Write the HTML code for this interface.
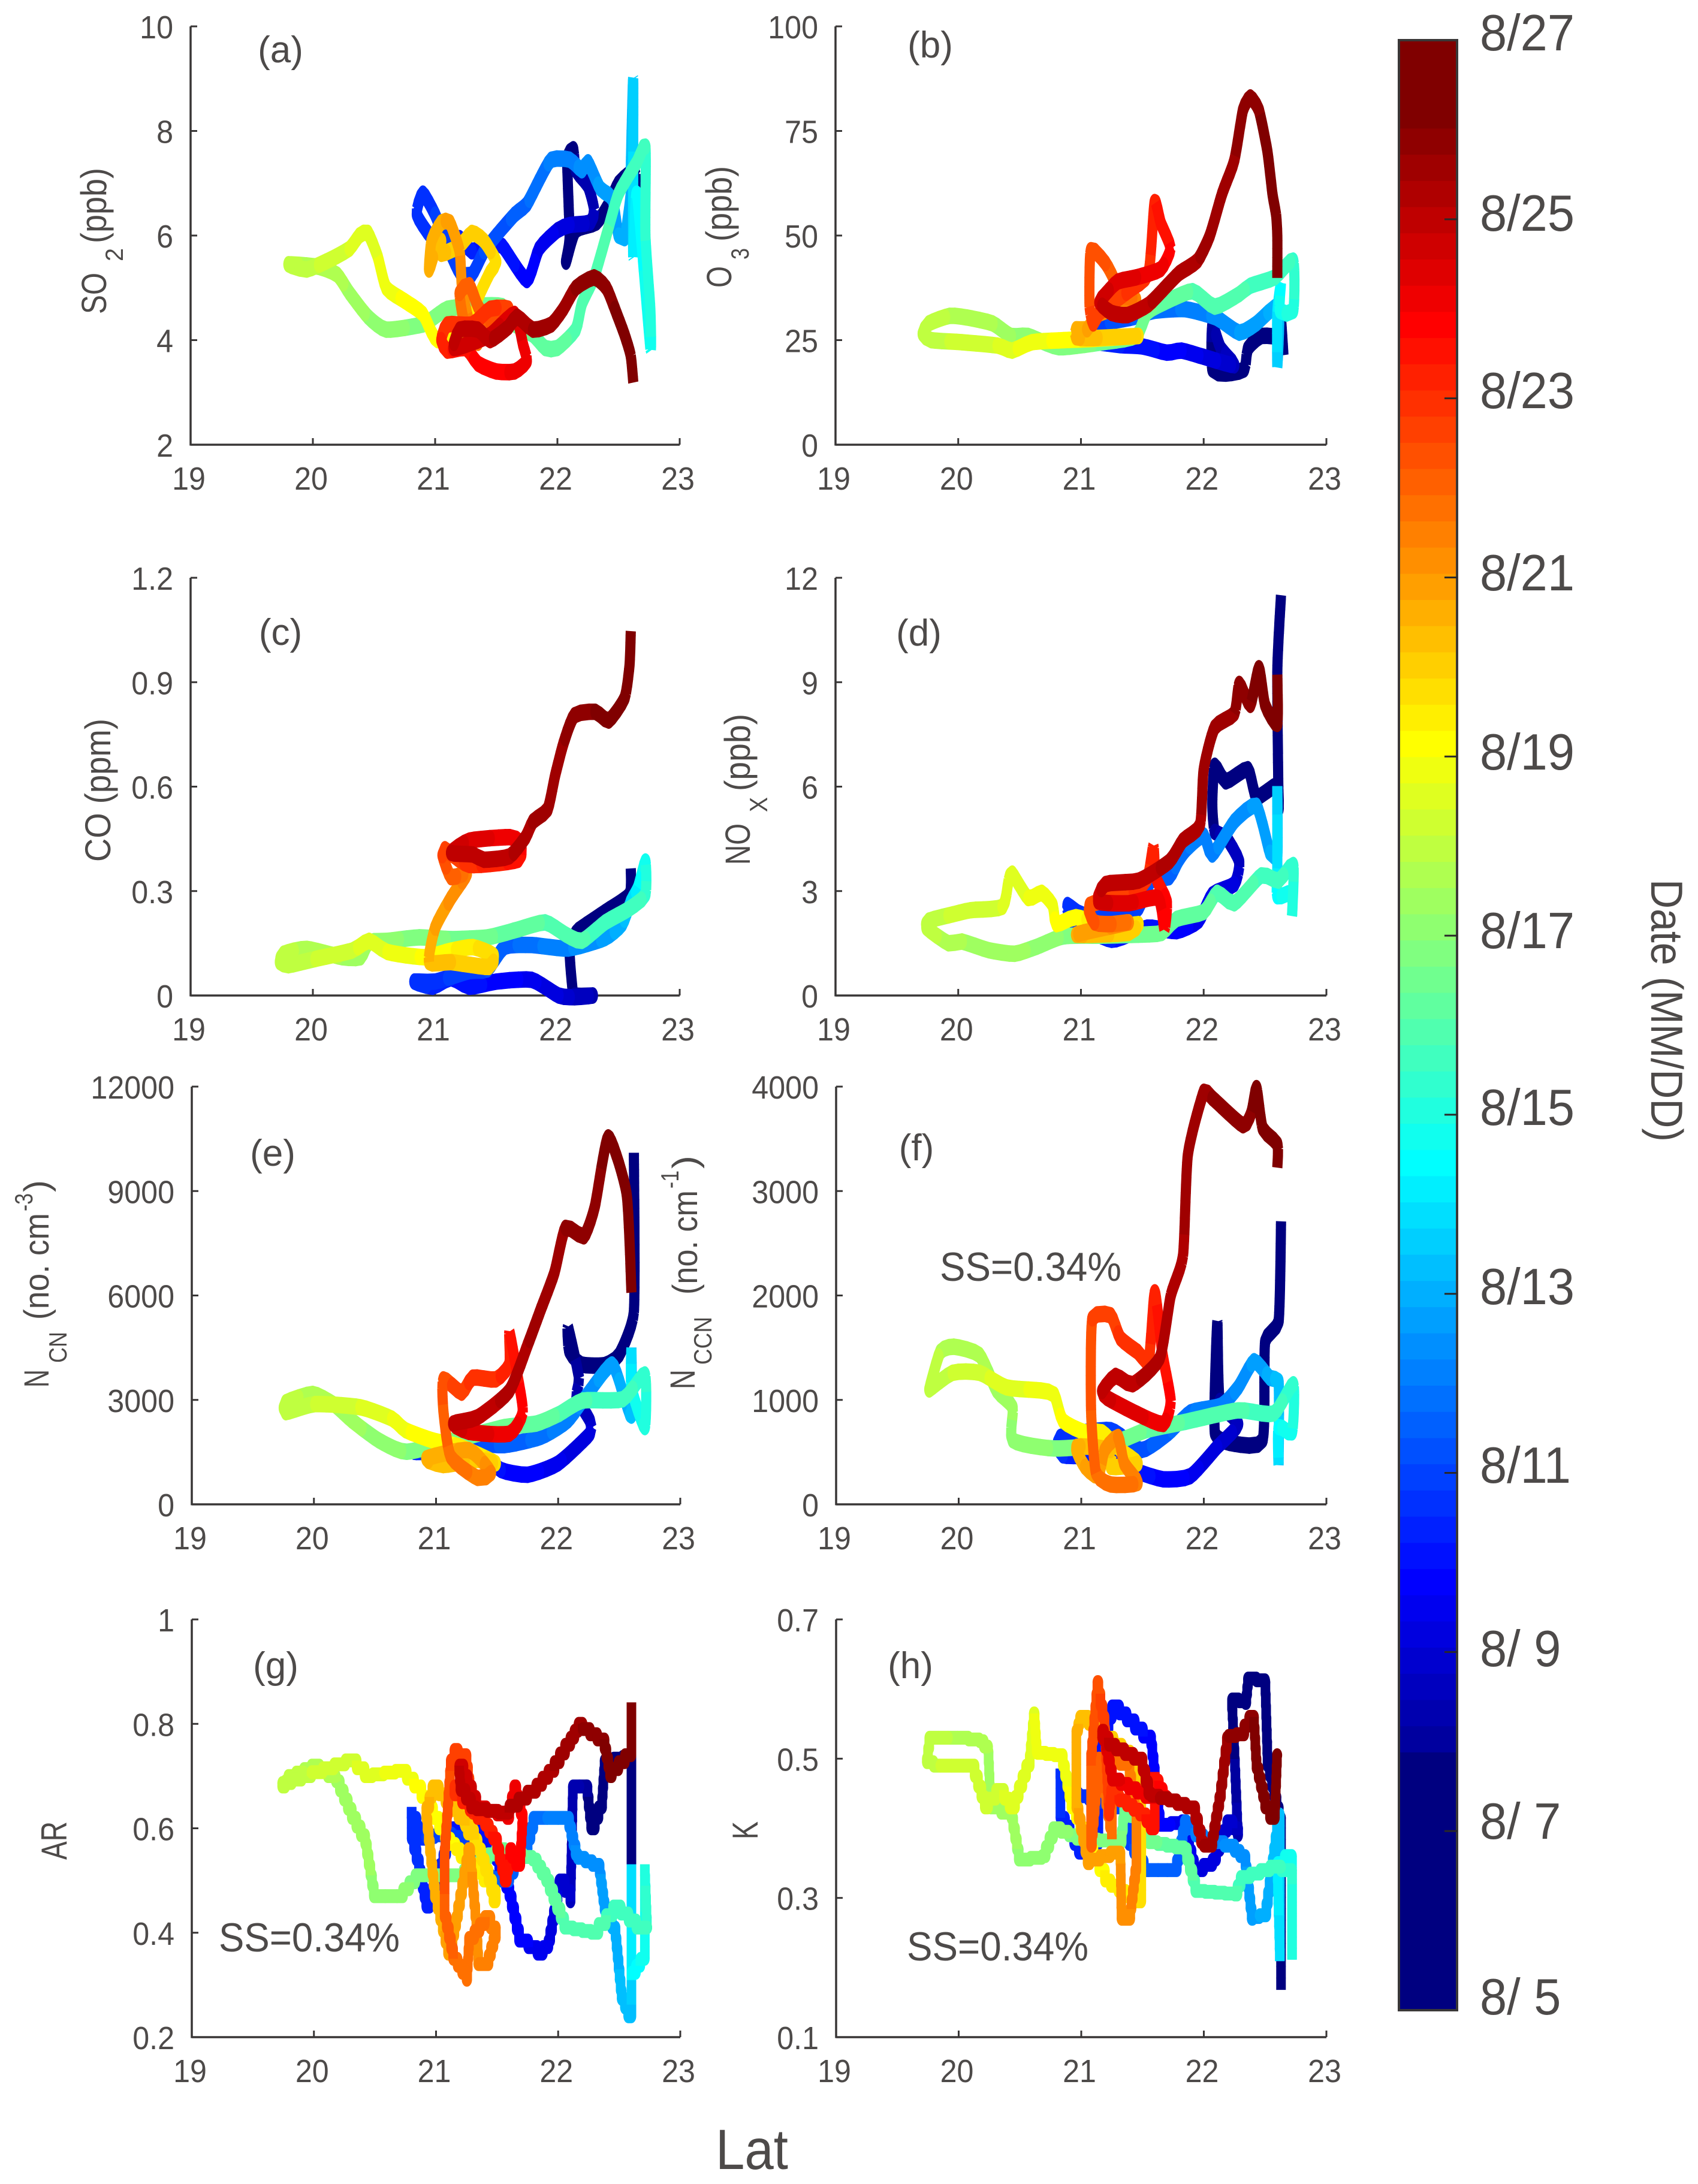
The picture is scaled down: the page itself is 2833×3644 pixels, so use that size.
<!DOCTYPE html>
<html lang="en">
<head>
<meta charset="utf-8">
<title>Date-coloured latitude profiles</title>
<style>
html,body{margin:0;padding:0;background:#fff;}
svg{display:block;}
text{font-family:"Liberation Sans",sans-serif;fill:#4d4a49;}
</style>
</head>
<body>
<svg id="chart" xmlns="http://www.w3.org/2000/svg" width="2833" height="3644" viewBox="0 0 2833 3644">
<rect x="0" y="0" width="2833" height="3644" fill="#ffffff"/>
<g id="plots"></g>
<g id="bar"></g>

<!-- panel letters -->
<text x="468" y="104" font-size="62" text-anchor="middle">(a)</text>
<text x="1552" y="96" font-size="62" text-anchor="middle">(b)</text>
<text x="468" y="1076" font-size="62" text-anchor="middle">(c)</text>
<text x="1533" y="1077" font-size="62" text-anchor="middle">(d)</text>
<text x="455" y="1945" font-size="62" text-anchor="middle">(e)</text>
<text x="1529" y="1936" font-size="62" text-anchor="middle">(f)</text>
<text x="460" y="2800" font-size="62" text-anchor="middle">(g)</text>
<text x="1519" y="2800" font-size="62" text-anchor="middle">(h)</text>

<!-- supersaturation notes -->
<text x="1568" y="2137" font-size="68" textLength="303" lengthAdjust="spacingAndGlyphs">SS=0.34%</text>
<text x="365" y="3256" font-size="68" textLength="302" lengthAdjust="spacingAndGlyphs">SS=0.34%</text>
<text x="1513" y="3271" font-size="68" textLength="303" lengthAdjust="spacingAndGlyphs">SS=0.34%</text>

<!-- y axis titles -->
<g>
<text transform="translate(177,524) rotate(-90)" font-size="58" textLength="69" lengthAdjust="spacingAndGlyphs">SO</text>
<text transform="translate(205,436) rotate(-90)" font-size="42" textLength="22" lengthAdjust="spacingAndGlyphs">2</text>
<text transform="translate(177,406) rotate(-90)" font-size="60" textLength="126" lengthAdjust="spacingAndGlyphs">(ppb)</text>
</g>
<g>
<text transform="translate(1220,480) rotate(-90)" font-size="58" textLength="36" lengthAdjust="spacingAndGlyphs">O</text>
<text transform="translate(1249,433) rotate(-90)" font-size="42" textLength="19" lengthAdjust="spacingAndGlyphs">3</text>
<text transform="translate(1220,403) rotate(-90)" font-size="60" textLength="126" lengthAdjust="spacingAndGlyphs">(ppb)</text>
</g>
<text transform="translate(184,1438) rotate(-90)" font-size="60" textLength="239" lengthAdjust="spacingAndGlyphs">CO (ppm)</text>
<g>
<text transform="translate(1251,1443) rotate(-90)" font-size="58" textLength="69" lengthAdjust="spacingAndGlyphs">NO</text>
<text transform="translate(1280,1355) rotate(-90)" font-size="42" textLength="25" lengthAdjust="spacingAndGlyphs">X</text>
<text transform="translate(1251,1320) rotate(-90)" font-size="60" textLength="129" lengthAdjust="spacingAndGlyphs">(ppb)</text>
</g>
<g>
<text transform="translate(81,2315) rotate(-90)" font-size="58" textLength="30" lengthAdjust="spacingAndGlyphs">N</text>
<text transform="translate(111,2274) rotate(-90)" font-size="42" textLength="52" lengthAdjust="spacingAndGlyphs">CN</text>
<text transform="translate(81,2202) rotate(-90)" font-size="58" textLength="178" lengthAdjust="spacingAndGlyphs">(no. cm</text>
<text transform="translate(54,2021) rotate(-90)" font-size="42" textLength="30" lengthAdjust="spacingAndGlyphs">-3</text>
<text transform="translate(81,1989) rotate(-90)" font-size="58" textLength="20" lengthAdjust="spacingAndGlyphs">)</text>
</g>
<g>
<text transform="translate(1159,2318) rotate(-90)" font-size="58" textLength="33" lengthAdjust="spacingAndGlyphs">N</text>
<text transform="translate(1187,2277) rotate(-90)" font-size="42" textLength="80" lengthAdjust="spacingAndGlyphs">CCN</text>
<text transform="translate(1163,2160) rotate(-90)" font-size="58" textLength="174" lengthAdjust="spacingAndGlyphs">(no. cm</text>
<text transform="translate(1132,1983) rotate(-90)" font-size="42" textLength="30" lengthAdjust="spacingAndGlyphs">-1</text>
<text transform="translate(1163,1950) rotate(-90)" font-size="58" textLength="22" lengthAdjust="spacingAndGlyphs">)</text>
</g>
<text transform="translate(111,3103) rotate(-90)" font-size="60" textLength="64" lengthAdjust="spacingAndGlyphs">AR</text>
<text transform="translate(1264,3069) rotate(-90)" font-size="60" textLength="30" lengthAdjust="spacingAndGlyphs">K</text>

<text x="1194" y="3619" font-size="95" textLength="121" lengthAdjust="spacingAndGlyphs">Lat</text>
<text transform="translate(2755,1467) rotate(90)" font-size="75" textLength="438" lengthAdjust="spacingAndGlyphs">Date (MM/DD)</text>

<!-- colorbar labels -->
<g font-size="85">
<text transform="translate(2469,84) scale(.955,1)">8/27</text>
<text transform="translate(2469,385) scale(.955,1)">8/25</text>
<text transform="translate(2469,681) scale(.955,1)">8/23</text>
<text transform="translate(2469,985) scale(.955,1)">8/21</text>
<text transform="translate(2469,1284) scale(.955,1)">8/19</text>
<text transform="translate(2469,1582) scale(.955,1)">8/17</text>
<text transform="translate(2469,1877) scale(.955,1)">8/15</text>
<text transform="translate(2469,2176) scale(.955,1)">8/13</text>
<text transform="translate(2469,2474) scale(.955,1)">8/11</text>
<text transform="translate(2469,2780) scale(.955,1)" xml:space="preserve">8/ 9</text>
<text transform="translate(2469,3068) scale(.955,1)" xml:space="preserve">8/ 7</text>
<text transform="translate(2469,3361) scale(.955,1)" xml:space="preserve">8/ 5</text>
</g>
</svg>

<script>
const latTicks = [19, 20, 21, 22, 23];
const colorbarDays = [7, 9, 11, 13, 15, 17, 19, 21, 23, 25];

const yTicksA = [2, 4, 6, 8, 10];
const yTicksB = [0, 25, 50, 75, 100];
const yTicksC = [0, 0.3, 0.6, 0.9, 1.2];
const yTicksD = [0, 3, 6, 9, 12];
const yTicksE = [0, 3000, 6000, 9000, 12000];
const yTicksF = [0, 1000, 2000, 3000, 4000];
const yTicksG = [0.2, 0.4, 0.6, 0.8, 1];
const yTicksH = [0.1, 0.3, 0.5, 0.7];

const latA = [
22.64,22.63,22.5,22.42,22.32,22.15,22.07,22.1,22.08,22.13,
22.15,22.25,22.3,22.27,22.1,22,21.85,21.75,21.55,21.45,
21.3,21.2,21,20.85,20.9,21,21.1,21.2,21.3,21.4,
21.5,21.65,21.75,21.85,21.95,22.1,22.2,22.25,22.35,22.45,
22.5,22.55,22.6,22.6,22.62,22.62,22.65,22.76,22.76,22.72,
22.72,22.65,22.5,22.4,22.3,22.2,22.15,22,21.9,21.8,
21.65,21.55,21.3,21.1,21,20.9,20.6,20.45,20.3,20.2,
20.05,19.8,19.95,20.15,20.3,20.38,20.45,20.53,20.6,20.75,
20.9,21.02,21.3,21.35,21.45,21.5,21.4,21.3,21.2,21.05,
21.05,21,20.95,20.97,21.05,21.12,21.2,21.22,21.28,21.3,
21.35,21.25,21.2,21.28,21.35,21.45,21.6,21.45,21.3,21.1,
21.05,21.1,21.25,21.35,21.5,21.65,21.75,21.72,21.65,21.45,
21.3,21.15,21.2,21.35,21.45,21.6,21.67,21.8,21.95,22.05,
22.15,22.3,22.4,22.47,22.55,22.6,22.62];
const so2 = [
6.9,7.25,7.0,6.6,6.25,6.1,5.5,5.95,7.5,7.65,
7.25,6.95,6.5,6.25,6.2,6.1,5.75,5.15,5.8,5.85,
5.7,5.95,5.9,6.4,6.8,6.4,5.8,5.3,5.25,5.7,
6,6.4,6.6,7.05,7.45,7.45,7.25,7.4,6.9,6.7,
6,5.95,6.8,7.3,9,5.6,6.8,3.85,4.6,6,
7.7,7.4,6.8,6,5.2,4.7,4.2,3.85,3.85,4.1,
4.3,4.65,4.65,4.6,4.45,4.3,4.2,4.45,4.9,5.25,
5.4,5.45,5.35,5.55,5.75,6,6.05,5.6,5,4.75,
4.5,4,4.3,4.8,5.3,5.5,5.9,6.05,5.8,5.65,
5.9,5.7,5.35,5.9,6.25,6.25,5.7,5,4.3,4,
3.95,4.2,4.9,5.05,4.65,4.35,4.6,4.6,4.3,4.3,
4,3.8,3.85,3.55,3.4,3.4,3.6,3.9,4.5,4.1,
3.95,3.85,4.2,4.2,4,4.25,4.45,4.2,4.3,4.6,
5,5.2,5,4.6,4.1,3.7,3.2];
const dayA = [
5,5.4,5.8,6.2,6.6,7,7.2,7.4,7.6,7.8,
8,8.2,8.4,8.6,9,9.2,9.5,9.8,10,10.1,
10.2,10.3,10.4,10.6,10.7,10.8,10.9,11,11,11.1,
11.2,11.4,11.6,11.8,12,12.2,12.3,12.4,12.6,12.7,
12.8,12.9,13,13.2,13.5,14,14.4,14.8,15,15.2,
15.5,15.6,15.7,15.8,15.9,16,16,16.1,16.2,16.3,
16.4,16.5,16.6,16.7,16.8,16.9,17,17.2,17.4,17.6,
17.7,17.9,18,18.2,18.4,18.5,18.6,18.7,18.8,19,
19.1,19.2,19.5,19.6,19.7,19.8,19.9,20,20.1,20.2,
20.3,20.4,20.5,20.6,20.7,20.8,21,21.2,21.4,21.6,
21.7,21.8,21.9,22,22.1,22.2,22.6,22.8,22.9,23,
23.1,23.2,23.5,23.7,23.9,24,24.1,24.2,24.4,24.6,
24.7,24.8,24.9,25,25.1,25.2,25.3,25.4,25.5,25.6,
25.7,25.8,25.9,26,26.2,26.4,26.6];

const latB = [
22.65,22.63,22.62,22.47,22.36,22.33,22.18,22.07,22.07,22.14,
22.25,22,21.82,21.7,21.5,21.32,21.1,20.82,21.04,21.2,
21.43,21.6,21.85,22.1,22.29,22.43,22.61,22.6,22.6,22.63,
22.62,22.73,22.73,22.58,22.38,22.29,22.09,21.91,21.68,21.54,
21.45,21.18,20.82,20.57,20.43,20.28,20.07,19.93,19.76,19.71,
19.78,20.03,20.32,20.44,20.6,20.86,21.11,21.47,21.1,20.96,
20.96,21.05,21.12,21.21,21.45,21.3,21.27,21.2,21.08,21.07,
21.1,21.15,21.4,21.55,21.6,21.65,21.73,21.65,21.45,21.3,
21.2,21.15,21.25,21.38,21.55,21.7,21.8,21.95,22.05,22.15,
22.25,22.32,22.38,22.45,22.52,22.56,22.59,22.6,22.6];
const o3 = [
21.4,30,26,26,23,18,17,18,28.5,23,
19,21,22.5,22,23.5,23.8,24.5,23.5,25,29,
30.5,32,32.4,30.4,26.8,29,33,18.6,31.6,38.7,
32,32,44,40,38,36,33,36.7,34,31.6,
26,24.5,23.3,26,26,29,30.4,30.8,29,26.5,
25,24.5,23.7,22.5,24.5,25,25.3,26,25.5,25.7,
27.6,27.6,30.8,32,34.7,36,39.5,43.4,46.5,33,
29,31.5,37,41,58,53,47,42,40,39,
36,34,31.5,31,33.5,38,41,44,50,60,
68,80,83,80,70,60,55,50,40];
const dayB = [
5,5.3,5.6,6,6.4,6.8,7.2,7.6,8,8.3,
8.6,9.2,9.6,9.8,10,10.2,10.4,10.6,10.8,11,
11.3,11.7,12,12.3,12.5,12.7,13,13.5,14,14.5,
14.7,15.1,15.4,15.6,15.7,15.8,15.9,16,16.2,16.4,
16.5,16.6,16.8,17,17.2,17.5,17.7,17.8,17.9,18,
18,18.2,18.4,18.6,18.8,19.1,19.4,19.8,20.2,20.5,
20.6,20.7,20.9,21.1,21.4,21.8,22,22.2,22.4,22.5,
22.6,22.7,22.8,23,23.3,23.5,23.7,24,24.2,24.4,
24.6,24.8,24.9,25,25.1,25.2,25.3,25.4,25.5,25.6,
25.7,25.8,25.9,26,26.1,26.2,26.3,26.4,26.5];

const latC = [
22.6,22.59,22.39,22.2,22.15,22.1,22.12,22.14,22.29,22.14,
22.01,21.79,21.5,21.28,21.13,20.98,20.83,21,21.28,21.43,
21.57,21.79,22.09,22.39,22.53,22.6,22.66,22.72,22.72,22.59,
22.39,22.2,22.07,21.9,21.68,21.43,21.13,20.87,20.61,20.46,
20.39,20.24,19.95,19.76,19.73,19.8,20.02,20.32,20.46,20.61,
20.91,21.13,21.31,21.48,21.44,21.13,20.95,21,21.13,21.26,
21.13,21.06,21.08,21.28,21.68,21.7,21.61,21.28,21.13,21.31,
21.4,21.61,21.74,21.8,21.92,21.98,22.05,22.14,22.31,22.42,
22.55,22.59,22.6];
const co = [
0.365,0.29,0.24,0.195,0.18,0.13,0.03,0,0,-0.005,
0,0.045,0.04,0.025,0.05,0.025,0.04,0.04,0.07,0.075,
0.14,0.145,0.135,0.165,0.205,0.27,0.31,0.385,0.29,0.25,
0.21,0.157,0.175,0.21,0.19,0.167,0.162,0.167,0.157,0.153,
0.11,0.11,0.134,0.12,0.096,0.087,0.105,0.129,0.157,0.125,
0.11,0.129,0.139,0.115,0.082,0.096,0.096,0.195,0.28,0.35,
0.34,0.403,0.42,0.375,0.39,0.44,0.455,0.445,0.41,0.405,
0.39,0.4,0.455,0.5,0.535,0.63,0.725,0.805,0.815,0.79,
0.855,0.95,1.045];
const dayC = [
5,5.4,5.8,6.3,6.6,7,7.4,7.8,8.3,8.6,
9,9.4,9.8,10,10.2,10.4,10.6,10.7,10.9,11.1,
11.5,11.8,12.2,12.6,13,13.5,14.2,14.8,15.3,15.6,
15.7,15.8,15.9,16,16.2,16.4,16.6,16.8,17,17.2,
17.4,17.5,17.7,17.9,18,18,18.1,18.3,18.5,18.7,
19,19.2,19.5,19.7,19.9,20.1,20.4,20.8,21.1,21.4,
22,22.4,22.6,22.8,23.6,23.8,24,24.4,24.8,25,
25,25.1,25.2,25.4,25.5,25.6,25.7,25.8,26,26.1,
26.2,26.4,26.6];

const latD = [
22.63,22.6,22.61,22.6,22.43,22.36,22.18,22.09,22.07,22.09,
22.18,22.29,22.25,22.07,21.96,21.78,21.54,21.25,20.93,20.89,
21.03,21.44,21.57,21.72,21.79,21.86,22,22.07,22.25,22.43,
22.54,22.6,22.6,22.6,22.6,22.72,22.72,22.73,22.61,22.47,
22.25,22.11,22,21.78,21.66,21.5,21.2,20.86,20.64,20.46,
20.25,20.03,19.92,19.74,19.76,19.92,20.1,20.36,20.41,20.44,
20.57,20.68,20.77,20.8,20.96,21.25,21.47,21.39,20.96,21.39,
21.25,21.11,21.07,21.39,21.54,21.59,21.61,21.7,21.68,21.63,
21.39,21.14,21.2,21.47,21.72,21.83,21.97,22,22.09,22.25,
22.29,22.38,22.45,22.5,22.6,22.6];
const nox = [
11.5,9.3,5.35,6.05,5.7,6.5,6.15,6.6,5.5,4.7,
4.55,3.85,3.2,2.9,2.15,1.85,1.95,1.6,2.15,2.6,
2.3,2.4,3.3,3.4,3.85,4.2,4.6,4.05,5,5.45,
4.1,4,6,3.65,2.85,2.95,2.3,3.75,3.3,3.45,
2.65,2.95,2.4,2.2,1.8,1.75,1.72,1.7,1.4,1.2,
1.3,1.55,1.5,1.95,2.15,2.3,2.45,2.55,3.3,3.5,
2.8,2.95,2.6,2.05,2.25,1.95,2.05,1.8,1.75,2.1,
2.05,2.1,2.6,2.9,3.35,4.3,3.4,2.7,1.9,2.8,
2.65,2.7,3.2,3.3,3.85,4.45,4.9,6.5,7.7,8.1,
8.95,8.35,9.4,8.35,7.8,9.2];
const dayD = [
5,5.3,5.6,5.9,6.2,6.5,6.8,7.1,7.5,7.9,
8.2,8.6,9,9.3,9.5,9.7,10,10.2,10.5,10.7,
10.8,11,11.2,11.5,11.7,11.9,12.1,12.2,12.4,12.6,
12.8,13,13.5,14,14.5,14.8,15,15.3,15.5,15.7,
15.9,16,16.1,16.2,16.4,16.5,16.7,16.9,17.1,17.3,
17.4,17.5,17.7,17.9,18,18.1,18.2,18.4,18.5,18.6,
18.7,18.8,18.9,19,19.2,19.4,19.7,19.9,20.6,21.3,
21.8,22.2,22.4,22.7,23,23.2,23.4,23.7,23.9,24,
24.3,24.7,24.9,25,25.2,25.3,25.4,25.5,25.6,25.7,
25.9,26,26.1,26.2,26.5,26.6];

const latE = [
22.62,22.62,22.5,22.38,22.19,22.09,22.08,22.17,22.15,22.26,
22.26,22,21.75,21.53,21.34,20.82,21.27,21.56,21.86,22.08,
22.26,22.44,22.53,22.6,22.6,22.6,22.71,22.71,22.53,22.2,
22.01,21.82,21.56,21.2,20.76,20.53,20.31,20.16,19.99,19.77,
19.77,20.01,20.38,20.64,20.75,20.97,21.2,21.49,21.34,21.06,
20.92,21.27,21.45,21.34,21.12,21.06,21.06,21.21,21.3,21.49,
21.6,21.6,21.66,21.71,21.6,21.27,21.14,21.34,21.6,21.75,
21.86,21.97,22.06,22.21,22.3,22.41,22.56,22.6];
const ncn = [
10100,5530,4300,4000,4020,4400,5100,3640,3070,2410,
2030,1180,850,990,1510,1510,1750,1700,1940,2410,
3260,4020,3210,2550,4490,3350,2220,3730,3020,2980,
2600,2320,2220,1890,1510,1840,2410,2880,3170,2930,
2650,2880,2790,2460,2130,1840,1650,1180,1280,1130,
1320,1560,900,760,1370,2690,3590,3210,3640,3590,
4020,4960,3830,2650,2030,2080,2320,2500,3260,4580,
5620,6660,7940,7700,8550,10540,8930,6100];
const dayE = [
5,5.5,6,6.4,6.8,7.2,7.6,8,8.3,8.6,
9,9.4,9.7,9.9,10.1,10.4,10.9,11.4,11.8,12.1,
12.4,12.7,12.9,13.2,13.6,14.4,15,15.3,15.6,15.8,
16,16.2,16.4,16.6,16.9,17.1,17.3,17.5,17.7,17.9,
18,18.1,18.4,18.7,18.9,19.1,19.3,19.7,20,20.3,
20.5,20.8,21.2,21.5,21.8,22.1,22.4,22.6,22.8,23,
23.2,23.4,23.6,23.8,24.1,24.4,24.8,25,25.2,25.4,
25.5,25.6,25.7,25.8,25.9,26.1,26.3,26.6];

const latF = [
22.63,22.61,22.5,22.48,22.25,22.09,22.11,22.13,22.28,22.11,
21.89,21.67,21.46,21.24,20.85,20.83,21.24,21.49,21.71,21.89,
22.14,22.28,22.41,22.54,22.61,22.61,22.61,22.72,22.73,22.57,
22.28,21.85,21.53,21.24,20.78,20.44,20.44,20.31,20.17,19.96,
19.85,19.77,19.76,19.95,20.17,20.39,20.67,20.78,20.85,21.03,
21.17,21.32,21.46,21.24,21.24,20.96,21.03,21.14,21.19,21.3,
21.35,21.46,21.24,21.12,21.08,21.09,21.24,21.32,21.46,21.55,
21.6,21.66,21.73,21.67,21.46,21.21,21.17,21.28,21.42,21.64,
21.73,21.83,21.87,22,22.07,22.32,22.39,22.43,22.48,22.6,
22.6];
const nccn = [
2710,1750,1560,615,580,680,1750,990,770,550,
270,240,315,460,470,645,710,520,680,880,
945,1120,1370,1210,1180,380,740,690,1150,870,
900,790,710,580,535,615,930,1090,1430,1510,
1460,1150,1100,1260,1260,1120,1090,1050,800,690,
690,520,390,360,520,550,360,270,520,645,
390,205,190,300,900,1780,1810,1590,1460,1370,
2030,1460,990,770,865,1020,1085,1230,1150,1400,
2000,2380,3350,3950,3890,3630,3760,3985,3600,3450,
3230];
const dayF = [
5,5.4,5.8,6.2,6.6,7,7.4,7.8,8.5,9,
9.5,9.8,10,10.2,10.5,10.7,10.9,11.2,11.6,11.9,
12.1,12.3,12.6,12.9,13.2,13.7,14.4,14.8,15.2,15.6,
15.8,16,16.3,16.6,16.9,17.1,17.3,17.4,17.6,17.7,
17.8,17.9,18,18.1,18.3,18.5,18.8,18.9,19,19.1,
19.3,19.6,19.8,20.1,20.2,20.5,20.7,20.9,21.1,21.3,
21.5,21.6,21.7,21.9,22.2,22.5,22.7,22.8,22.9,23,
23.3,23.5,23.8,24,24.3,24.6,24.8,25,25.1,25.2,
25.3,25.4,25.5,25.6,25.7,25.9,26,26.1,26.2,26.4,
26.6];

const latG = [
22.6,22.6,22.6,22.38,22.36,22.27,22.23,22.12,22.1,22.01,
21.92,21.83,21.68,21.6,21.49,21.34,21.13,21.06,20.92,20.86,
20.8,20.8,20.92,21.13,21.31,21.45,21.6,21.75,21.82,22.09,
22.16,22.34,22.38,22.47,22.52,22.6,22.6,22.6,22.71,22.71,
22.73,22.64,22.45,22.27,22.05,21.9,21.79,21.49,21.16,20.83,
20.68,20.49,20.42,20.31,20.18,19.98,19.79,19.74,19.98,20.35,
20.48,20.76,20.88,21.12,21.2,21.45,21.49,21.34,21.2,21.29,
20.97,20.92,20.99,21.12,21.18,21.28,21.33,21.35,21.43,21.49,
21.4,21.27,21.25,21.14,21.07,21.07,21.12,21.18,21.25,21.31,
21.15,21.4,21.5,21.58,21.62,21.69,21.71,21.64,21.58,21.33,
21.19,21.2,21.33,21.6,21.82,21.97,22.1,22.2,22.38,22.44,
22.6,22.6];
const ar = [
0.762,0.44,0.74,0.73,0.66,0.6,0.68,0.68,0.46,0.5,
0.385,0.36,0.385,0.47,0.54,0.6,0.6,0.55,0.45,0.52,
0.58,0.64,0.58,0.59,0.57,0.51,0.5,0.56,0.62,0.62,
0.55,0.53,0.46,0.41,0.29,0.24,0.53,0.31,0.35,0.53,
0.41,0.41,0.45,0.4,0.41,0.5,0.54,0.56,0.51,0.51,
0.47,0.47,0.57,0.62,0.69,0.72,0.7,0.68,0.7,0.73,
0.7,0.71,0.68,0.58,0.56,0.5,0.46,0.56,0.65,0.59,
0.68,0.64,0.49,0.36,0.43,0.56,0.43,0.34,0.34,0.39,
0.43,0.39,0.31,0.35,0.43,0.54,0.71,0.75,0.74,0.63,
0.68,0.62,0.58,0.5,0.56,0.53,0.61,0.68,0.62,0.64,
0.72,0.69,0.64,0.63,0.67,0.71,0.76,0.8,0.77,0.7,
0.74,0.84];
const dayG = [
5,5.5,6,6.5,7,7.5,8,8.3,8.6,9,
9.3,9.5,9.7,9.9,10,10.1,10.2,10.3,10.4,10.5,
10.6,10.7,10.8,11,11.1,11.3,11.5,11.7,11.9,12.1,
12.3,12.5,12.7,13,13.2,13.4,13.7,14.3,14.7,15.1,
15.3,15.5,15.7,15.9,16,16.2,16.3,16.5,16.7,16.9,
17,17.2,17.3,17.4,17.5,17.7,17.9,18,18.1,18.4,
18.6,18.9,19,19.2,19.3,19.5,19.7,19.8,20,20.1,
20.4,20.5,20.6,20.8,20.9,21,21.1,21.3,21.4,21.5,
21.6,21.7,21.8,21.9,22.1,22.3,22.5,22.6,22.7,22.9,
23,23.2,23.4,23.6,23.7,23.8,23.9,24,24.2,24.5,
24.8,24.9,25,25.1,25.3,25.4,25.6,25.7,26,26.1,
26.3,26.6];

const latH = [
22.63,22.63,22.52,22.5,22.36,22.34,22.23,22.25,22.28,22.19,
22.07,21.92,21.82,21.64,21.57,21.37,21.25,21.14,21.14,20.98,
20.83,20.83,20.98,21.37,21.39,21.55,21.78,21.86,22,22.25,
22.34,22.4,22.51,22.55,22.62,22.62,22.6,22.72,22.72,22.72,
22.54,22.3,22.25,21.93,21.84,21.55,21.35,21.32,20.96,20.77,
20.68,20.49,20.43,20.26,20.24,20.17,19.99,19.76,19.74,19.85,
20.13,20.24,20.37,20.46,20.58,20.62,20.64,20.85,20.92,21.1,
21.24,21.49,21.49,21.4,20.99,20.96,20.96,21.07,21.32,21.33,
21.4,21.45,21.45,21.38,21.25,21.25,21.14,21.08,21.08,21.14,
21.19,21.23,21.25,21.37,21.53,21.6,21.6,21.7,21.52,21.25,
21.17,21.28,21.5,21.57,21.78,21.93,22,22.07,22.14,22.2,
22.33,22.41,22.43,22.5,22.58,22.6];
const kappa = [
0.168,0.4,0.49,0.61,0.615,0.58,0.585,0.515,0.39,0.41,
0.355,0.34,0.41,0.405,0.52,0.555,0.575,0.51,0.385,0.365,
0.415,0.485,0.45,0.43,0.39,0.34,0.34,0.41,0.39,0.375,
0.36,0.27,0.275,0.325,0.42,0.21,0.34,0.36,0.212,0.335,
0.345,0.33,0.305,0.31,0.37,0.38,0.43,0.38,0.385,0.4,
0.36,0.355,0.415,0.43,0.51,0.525,0.53,0.53,0.5,0.49,
0.49,0.43,0.455,0.43,0.49,0.565,0.51,0.505,0.445,0.37,
0.325,0.295,0.42,0.5,0.56,0.54,0.445,0.35,0.365,0.27,
0.27,0.34,0.415,0.49,0.495,0.385,0.5,0.375,0.49,0.61,
0.56,0.42,0.455,0.44,0.42,0.4,0.48,0.445,0.445,0.47,
0.54,0.52,0.5,0.45,0.44,0.43,0.38,0.375,0.445,0.53,
0.535,0.56,0.5,0.445,0.415,0.505];
const dayH = [
5,5.4,5.8,6.2,6.6,7,7.4,7.8,8.4,8.8,
9.1,9.3,9.5,9.7,9.8,10,10.1,10.2,10.3,10.4,
10.5,10.6,10.7,10.9,11,11.3,11.6,11.8,12,12.3,
12.5,12.7,12.9,13.1,13.3,13.7,14.3,14.7,15,15.2,
15.5,15.7,15.8,16,16.2,16.4,16.5,16.7,16.9,17,
17.1,17.2,17.3,17.4,17.5,17.6,17.7,17.9,18,18.1,
18.2,18.3,18.4,18.5,18.6,18.7,18.8,18.9,19,19.2,
19.3,19.6,19.9,20,20.3,20.5,20.7,20.9,21,21.2,
21.3,21.4,21.5,21.6,21.7,21.8,22,22.1,22.2,22.4,
22.6,22.8,23,23.1,23.3,23.5,23.6,23.8,24,24.3,
24.7,24.9,25,25.1,25.2,25.4,25.4,25.5,25.6,25.7,
25.9,26,26.1,26.2,26.5,26.6];

const NS = 'http://www.w3.org/2000/svg';
const AXIS_COLOR = '#383636';
const BAR_LEFT = 2334, BAR_RIGHT = 2431, BAR_TOP = 67, BAR_BOTTOM = 3354;
const PX_PER_DAY = (BAR_BOTTOM - BAR_TOP) / 22;
const BAND = 43.7, CYAN_Y = 1940;
const BRUSH_W = 17, BRUSH_STRETCH = 1.62, TENSION = 0.3, STEP_PX = 12, STAIR_PX = 20;

function dayToBarY(day) { return BAR_BOTTOM - (day - 5) * PX_PER_DAY; }
function clamp01(v) { return Math.max(0, Math.min(1, v)); }
function jetColor(level) {
  const t = Math.max(1, Math.min(64, level)) / 64;
  const r = clamp01(Math.min(4 * t - 1.5, 4.5 - 4 * t));
  const g = clamp01(Math.min(4 * t - 0.5, 3.5 - 4 * t));
  let b = clamp01(Math.min(4 * t + 0.5, 2.5 - 4 * t));
  if (level <= 1) b = 0.5;
  return 'rgb(' + Math.round(r * 255) + ',' + Math.round(g * 255) + ',' + Math.round(b * 255) + ')';
}
function levelAtY(y) { return 24 + (CYAN_Y - y) / BAND; }
function dayColor(day) { return jetColor(Math.round(levelAtY(dayToBarY(day)))); }

function drawLine(parent, x1, y1, x2, y2, w, color, name) {
  const l = document.createElementNS(NS, 'line');
  l.setAttribute('x1', x1); l.setAttribute('y1', y1);
  l.setAttribute('x2', x2); l.setAttribute('y2', y2);
  l.setAttribute('stroke', color); l.setAttribute('stroke-width', w);
  
  
  parent.appendChild(l);
  return l;
}
function addBrushStroke(trace, ax, ay, bx, by, day, stretch) {
  const dx = bx - ax, dy = by - ay;
  if (dx === 0 && dy === 0) return;
  const len = Math.hypot(dx, dy);
  const upright = Math.abs(dx) < 0.3 * Math.abs(dy);
  const seg = document.createElementNS(NS, 'line');
  seg.setAttribute('x1', ax.toFixed(1));
  seg.setAttribute('y1', (ay / stretch).toFixed(1));
  seg.setAttribute('x2', (upright ? bx + dx / len : bx).toFixed(1));
  seg.setAttribute('y2', ((upright ? by + dy / len : by) / stretch).toFixed(1));
  seg.setAttribute('stroke', dayColor(day));
  seg.setAttribute('stroke-linecap', upright ? 'butt' : 'round');
  
  
  trace.appendChild(seg);
}
function tangent(prev, next, span) {
  let mx = (next.x - prev.x) * TENSION, my = (next.y - prev.y) * TENSION;
  const m = Math.hypot(mx, my);
  if (m > span && m > 0) { mx *= span / m; my *= span / m; }
  return {x: mx, y: my};
}
function drawSmoothTrack(trace, pts, stretch) {
  for (let i = 0; i < pts.length - 1; i++) {
    const p0 = pts[Math.max(i - 1, 0)], p1 = pts[i], p2 = pts[i + 1], p3 = pts[Math.min(i + 2, pts.length - 1)];
    const span = Math.hypot(p2.x - p1.x, p2.y - p1.y);
    const m1 = tangent(p0, p2, span), m2 = tangent(p1, p3, span);
    const steps = Math.max(1, Math.ceil(span / STEP_PX));
    let px = p1.x, py = p1.y;
    for (let k = 1; k <= steps; k++) {
      const s = k / steps, s2 = s * s, s3 = s2 * s;
      const h00 = 2 * s3 - 3 * s2 + 1, h10 = s3 - 2 * s2 + s, h01 = -2 * s3 + 3 * s2, h11 = s3 - s2;
      const qx = h00 * p1.x + h10 * m1.x + h01 * p2.x + h11 * m2.x;
      const qy = h00 * p1.y + h10 * m1.y + h01 * p2.y + h11 * m2.y;
      addBrushStroke(trace, px, py, qx, qy, p1.d + (p2.d - p1.d) * s, stretch);
      px = qx; py = qy;
    }
  }
}
function drawStairTrack(trace, pts, stretch) {
  for (let i = 0; i < pts.length - 1; i++) {
    const p1 = pts[i], p2 = pts[i + 1];
    const span = Math.hypot(p2.x - p1.x, p2.y - p1.y);
    const steps = Math.max(1, Math.ceil(span / STAIR_PX));
    let px = p1.x, py = p1.y;
    for (let k = 1; k <= steps; k++) {
      const s = k / steps;
      const qx = p1.x + (p2.x - p1.x) * s, qy = p1.y + (p2.y - p1.y) * s;
      const d = p1.d + (p2.d - p1.d) * s;
      addBrushStroke(trace, px, py, px, qy, d, stretch);
      addBrushStroke(trace, px, qy, qx, qy, d, stretch);
      px = qx; py = qy;
    }
  }
}
function drawPanel(id, box, yTicks, lats, vals, days, stepped) {
  const g = document.createElementNS(NS, 'g');
  
  
  document.getElementById('plots').appendChild(g);
  const yMin = yTicks[0], yMax = yTicks[yTicks.length - 1];
  const sx = v => box.left + (v - latTicks[0]) / (latTicks[latTicks.length - 1] - latTicks[0]) * (box.right - box.left);
  const sy = v => box.bottom - (v - yMin) / (yMax - yMin) * (box.bottom - box.top);

  drawLine(g, box.left, box.top, box.left, box.bottom + 1.5, 3.5, AXIS_COLOR, 'y-axis-line');
  drawLine(g, box.left, box.bottom, box.right, box.bottom, 3.5, AXIS_COLOR, 'x-axis-line');
  latTicks.forEach(v => {
    drawLine(g, sx(v), box.bottom, sx(v), box.bottom - 11, 3, AXIS_COLOR, 'x-tick');
    const t = document.createElementNS(NS, 'text');
    t.setAttribute('transform', 'translate(' + (sx(v) - 3) + ',' + (box.bottom + 75) + ') scale(.93,1)');
    t.setAttribute('font-size', '54');
    t.setAttribute('text-anchor', 'middle');
    
    
    t.textContent = String(v);
    g.appendChild(t);
  });
  yTicks.forEach(v => {
    drawLine(g, box.left, sy(v), box.left + 11, sy(v), 3, AXIS_COLOR, 'y-tick');
    const t = document.createElementNS(NS, 'text');
    t.setAttribute('transform', 'translate(' + (box.left - 29) + ',' + (sy(v) + 20) + ') scale(.93,1)');
    t.setAttribute('font-size', '54');
    t.setAttribute('text-anchor', 'end');
    
    
    t.textContent = String(v);
    g.appendChild(t);
  });

  const n = Math.min(lats.length, vals.length, days.length);
  const pts = [];
  for (let i = 0; i < n; i++) pts.push({x: sx(lats[i]), y: sy(vals[i]), d: days[i]});
  const stretch = stepped ? 1.45 : BRUSH_STRETCH;
  const trace = document.createElementNS(NS, 'g');
  trace.setAttribute('transform', 'scale(1,' + stretch + ')');
  trace.setAttribute('stroke-width', stepped ? 16 : BRUSH_W);
  trace.setAttribute('fill', 'none');
  
  
  g.appendChild(trace);
  if (stepped) drawStairTrack(trace, pts, stretch);
  else drawSmoothTrack(trace, pts, stretch);
}

drawPanel('a', {left: 318, right: 1134, top: 44, bottom: 742}, yTicksA, latA, so2, dayA, false);
drawPanel('b', {left: 1394, right: 2213, top: 44, bottom: 742}, yTicksB, latB, o3, dayB, false);
drawPanel('c', {left: 318, right: 1134, top: 964, bottom: 1661}, yTicksC, latC, co, dayC, false);
drawPanel('d', {left: 1394, right: 2213, top: 964, bottom: 1661}, yTicksD, latD, nox, dayD, false);
drawPanel('e', {left: 320, right: 1135, top: 1813, bottom: 2510}, yTicksE, latE, ncn, dayE, false);
drawPanel('f', {left: 1395, right: 2213, top: 1813, bottom: 2510}, yTicksF, latF, nccn, dayF, false);
drawPanel('g', {left: 320, right: 1135, top: 2702, bottom: 3399}, yTicksG, latG, ar, dayG, true);
drawPanel('h', {left: 1395, right: 2213, top: 2702, bottom: 3399}, yTicksH, latH, kappa, dayH, true);

(function drawColorbar() {
  const bar = document.getElementById('bar');
  for (let k = 1; k <= 64; k++) {
    const yBottom = k === 1 ? BAR_BOTTOM : CYAN_Y - (k - 24) * BAND + BAND / 2;
    const yTop = k === 64 ? BAR_TOP : CYAN_Y - (k - 24) * BAND - BAND / 2;
    const r = document.createElementNS(NS, 'rect');
    r.setAttribute('x', BAR_LEFT);
    r.setAttribute('y', yTop);
    r.setAttribute('width', BAR_RIGHT - BAR_LEFT);
    r.setAttribute('height', yBottom - yTop + 0.6);
    r.setAttribute('fill', jetColor(k));
    
    
    bar.appendChild(r);
  }
  const frame = document.createElementNS(NS, 'rect');
  frame.setAttribute('x', BAR_LEFT);
  frame.setAttribute('y', BAR_TOP);
  frame.setAttribute('width', BAR_RIGHT - BAR_LEFT);
  frame.setAttribute('height', BAR_BOTTOM - BAR_TOP);
  frame.setAttribute('fill', 'none');
  frame.setAttribute('stroke', '#3a3838');
  frame.setAttribute('stroke-width', '4');
  
  
  bar.appendChild(frame);
  colorbarDays.forEach(d => {
    drawLine(bar, BAR_RIGHT - 21, dayToBarY(d), BAR_RIGHT, dayToBarY(d), 3, '#2a2828', 'colorbar-tick');
  });
})();
</script>
</body>
</html>
